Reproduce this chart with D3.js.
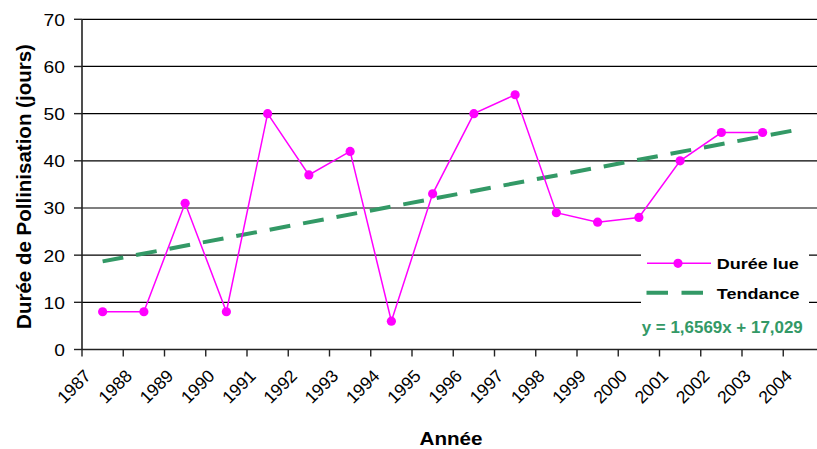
<!DOCTYPE html>
<html><head><meta charset="utf-8">
<script src="https://cdn.jsdelivr.net/npm/d3@7/dist/d3.min.js"></script>
<style>body{margin:0;background:#fff}svg{display:block;font-family:"Liberation Sans",Arial,sans-serif}</style>
</head><body>
<svg id="c" width="817" height="449"></svg>
<script>
const years = ["1987","1988","1989","1990","1991","1992","1993","1994","1995","1996","1997","1998","1999","2000","2001","2002","2003","2004"];
const dureeLue = [8,8,31,8,50,37,42,6,33,50,54,29,27,28,40,46,46];
const yTicks = [0,10,20,30,40,50,60,70];
const trendSlope = 1.6569, trendIntercept = 17.029;
const trendLabel = "y = 1,6569x + 17,029";
const seriesNames = ["Durée lue","Tendance"];
const yTitle = "Durée de Pollinisation (jours)";
const xTitle = "Année";

const svg = d3.select("#c");
const SX = 1.18;
const x = d3.scaleBand().domain(years).range([82, 82 + 18*41.25]).padding(0);
const y = d3.scaleLinear().domain([0,70]).range([349.5, 19.3]);
const cx = i => x(years[i]) + x.bandwidth()/2;

function stext(g, tx, ty, str, opts) {
  const gg = g.append("g").attr("transform", `translate(${tx},${ty}) scale(${opts.sx||SX},1)` + (opts.rot ? ` rotate(${opts.rot})` : ""));
  return gg.append("text").attr("x",0).attr("y",0)
    .attr("text-anchor", opts.anchor||"start")
    .attr("font-size", opts.fs||16)
    .attr("font-weight", opts.bold ? "bold" : "normal")
    .attr("fill", opts.fill||"#000").text(str);
}

// gridlines
svg.append("g").selectAll("line").data(yTicks.filter(d=>d>0)).join("line")
  .attr("x1", 82).attr("x2", 830).attr("y1", d=>y(d)).attr("y2", d=>y(d))
  .attr("stroke","#000").attr("stroke-width",1.2);

// axes
const ax = svg.append("g");
ax.append("line").attr("x1",82).attr("x2",82).attr("y1",y(70)).attr("y2",y(0)).attr("stroke","#222").attr("stroke-width",1.6);
ax.append("line").attr("x1",82).attr("x2",830).attr("y1",y(0)).attr("y2",y(0)).attr("stroke","#222").attr("stroke-width",1.6);
ax.selectAll(".yt").data(yTicks).join("line").attr("x1",74).attr("x2",82).attr("y1",d=>y(d)).attr("y2",d=>y(d)).attr("stroke","#222").attr("stroke-width",1.4);
ax.selectAll(".xt").data(years).join("line").attr("x1",d=>x(d)).attr("x2",d=>x(d)).attr("y1",y(0)).attr("y2",y(0)+7).attr("stroke","#222").attr("stroke-width",1.4);

yTicks.forEach(t => stext(svg, 65, y(t)+6.5, String(t), {anchor:"end", fs:16.3}));
years.forEach(yr => stext(svg, x(yr)+10, 377, yr, {anchor:"end", fs:17.5, sx:1, rot:-45}));

// titles
svg.append("text").attr("transform","translate(30.5,186.5) rotate(-90)").attr("text-anchor","middle")
  .attr("font-size",20.5).attr("font-weight","bold").text(yTitle);
stext(svg, 451, 445, xTitle, {anchor:"middle", fs:17.5, bold:true});

// trend line
const tl = [0, years.length-1].map(i => [cx(i), y(trendSlope*(i+1)+trendIntercept)]);
svg.append("path").attr("d", d3.line()(tl)).attr("stroke","#339966").attr("stroke-width",4)
  .attr("stroke-dasharray","21,13").attr("fill","none");

// data line
svg.append("path").datum(dureeLue).attr("d", d3.line().x((d,i)=>cx(i)).y(d=>y(d)))
  .attr("stroke","#ff00ff").attr("stroke-width",1.5).attr("fill","none");
svg.append("g").selectAll("circle").data(dureeLue).join("circle")
  .attr("cx",(d,i)=>cx(i)).attr("cy",d=>y(d)).attr("r",4.6).attr("fill","#ff00ff");

// legend
const lg = svg.append("g");
lg.append("rect").attr("x",641).attr("y",247).attr("width",168).attr("height",64).attr("fill","#fff");
lg.append("line").attr("x1",647).attr("x2",711).attr("y1",263.3).attr("y2",263.3).attr("stroke","#ff00ff").attr("stroke-width",1.5);
lg.append("circle").attr("cx",678).attr("cy",263.3).attr("r",4.6).attr("fill","#ff00ff");
lg.append("line").attr("x1",646.5).attr("x2",704).attr("y1",292.7).attr("y2",292.7).attr("stroke","#339966").attr("stroke-width",4).attr("stroke-dasharray","21.5,13.5");
stext(lg, 716.7, 269.3, seriesNames[0], {fs:15.3, bold:true});
stext(lg, 716.7, 299, seriesNames[1], {fs:15.3, bold:true});
stext(svg, 641.7, 333.3, trendLabel, {fs:16, sx:1.06, bold:true, fill:"#339966"});
</script>
</body></html>
